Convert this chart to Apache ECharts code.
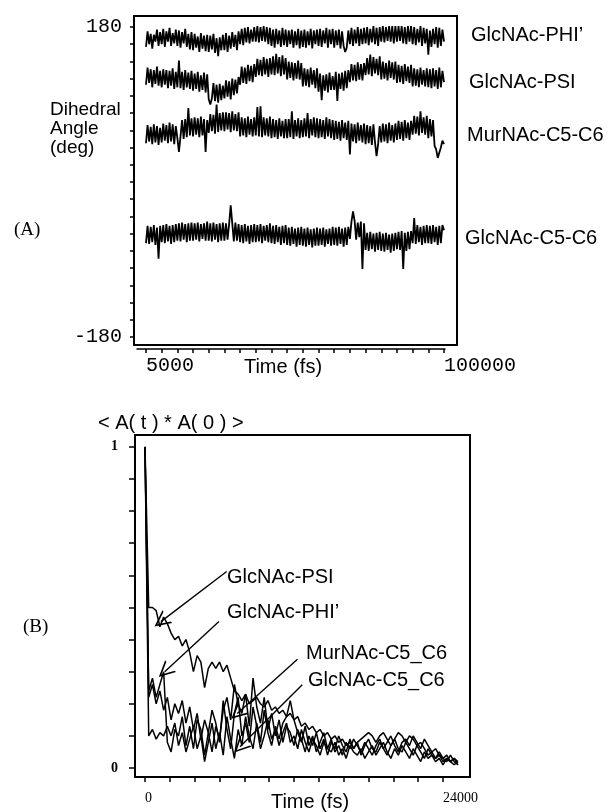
<!DOCTYPE html>
<html>
<head>
<meta charset="utf-8">
<title>Dihedral angles and autocorrelation</title>
<style>
body { margin: 0; background: #fff; }
#chart { width: 609px; height: 812px; }
</style>
</head>
<body>
<div id="chart"></div>
<script src="https://cdn.jsdelivr.net/npm/echarts@6/dist/echarts.min.js"></script>
<script type="text/javascript">

// (A) dihedral angle trajectories, sampled every 500 fs from 5000 fs
var timeStartA = 5000, timeStepA = 500;
var phiA = [157,175,160,172,155,171,163,177,158,174,
            160,178,157,175,163,179,158,173,161,177,
            158,176,156,174,161,178,157,172,154,174,
            153,172,156,169,151,173,155,170,152,171,
            151,170,154,172,150,167,146,168,153,171,
            153,173,151,170,155,174,157,171,153,175,
            160,178,159,179,162,180,161,177,163,180,
            163,181,162,180,164,181,163,180,160,179,
            158,177,156,178,160,176,157,179,159,177,
            157,176,160,177,156,175,159,178,155,176,
            157,177,156,175,159,178,155,176,160,177,
            158,178,157,176,161,179,156,177,160,178,
            156,176,159,177,155,175,158,151,156,176,
            160,179,158,177,161,180,158,178,160,179,
            161,180,159,178,162,181,160,179,158,180,
            163,181,162,180,164,181,163,181,161,181,
            163,181,164,181,161,180,160,181,163,181,
            160,180,159,178,162,181,158,179,161,178,
            148,176,157,178,160,180,156,179,158,177,
            163];
var psiA = [113,133,115,131,110,130,114,134,112,129,
            110,131,113,130,109,129,112,132,108,128,
            110,141,109,128,107,130,110,127,108,129,
            106,126,108,128,105,124,107,127,104,125,
            96,90,97,115,94,113,92,114,95,112,
            97,118,99,117,96,120,101,119,103,122,
            113,134,115,133,114,136,117,135,116,137,
            122,143,124,142,123,145,125,143,122,144,
            125,146,124,149,126,145,123,147,125,144,
            119,140,121,139,118,138,120,141,119,138,
            111,132,112,131,110,133,113,130,109,132,
            105,126,95,124,106,125,104,127,107,123,
            107,128,94,126,108,127,106,129,109,130,
            116,137,118,136,117,139,119,137,118,138,
            124,144,125,148,123,145,126,143,124,146,
            119,140,120,138,118,141,121,139,119,140,
            115,136,116,135,114,137,117,134,115,136,
            111,132,112,131,110,133,113,130,111,132,
            110,131,109,132,111,130,108,133,110,129,
            116];
var murA = [45,66,47,64,44,67,46,65,43,63,
            46,68,48,66,45,69,47,67,44,65,
            51,35,53,72,50,73,52,86,54,74,
            53,75,55,74,52,76,54,73,35,72,
            57,79,59,78,56,90,58,80,60,81,
            59,81,61,80,58,82,60,79,59,81,
            53,75,54,74,52,76,55,73,53,75,
            54,87,53,88,52,75,54,74,53,76,
            51,73,52,72,50,74,53,71,51,73,
            51,73,52,82,50,72,53,74,51,72,
            52,74,53,80,51,73,54,75,52,74,
            51,73,52,72,50,75,53,73,51,72,
            49,71,50,70,48,72,51,69,49,71,
            32,68,47,67,45,69,48,66,46,68,
            44,66,45,65,43,67,46,30,44,65,
            46,68,47,67,45,69,48,66,46,68,
            49,71,50,70,48,72,51,69,49,71,
            55,77,56,76,54,82,57,75,55,77,
            51,73,53,72,42,38,28,26,40,48,
            44];
var glcA = [-71,-51,-72,-52,-70,-50,-73,-53,-89,-51,
            -70,-50,-71,-49,-69,-51,-72,-50,-70,-49,
            -68,-48,-69,-47,-67,-49,-70,-48,-68,-47,
            -68,-48,-67,-47,-69,-49,-66,-48,-68,-46,
            -68,-48,-69,-47,-67,-49,-70,-48,-68,-47,
            -68,-48,-67,-49,-27,-48,-69,-47,-68,-49,
            -70,-50,-71,-49,-69,-51,-72,-50,-70,-49,
            -70,-50,-69,-49,-71,-51,-68,-50,-70,-48,
            -71,-51,-72,-50,-70,-52,-73,-51,-71,-50,
            -73,-53,-74,-52,-72,-54,-75,-53,-73,-52,
            -74,-54,-75,-53,-73,-55,-76,-54,-74,-53,
            -74,-54,-73,-53,-75,-55,-72,-54,-74,-52,
            -73,-53,-74,-52,-72,-54,-75,-53,-73,-52,
            -66,-46,-34,-45,-67,-47,-64,-46,-101,-48,
            -79,-59,-80,-58,-78,-60,-81,-59,-79,-58,
            -80,-60,-81,-59,-79,-61,-82,-60,-80,-59,
            -78,-58,-79,-57,-101,-59,-80,-58,-78,-57,
            -71,-42,-72,-50,-70,-52,-73,-51,-71,-50,
            -71,-51,-72,-50,-70,-52,-73,-51,-71,-50,
            -56];
var namesA = ['GlcNAc-PHI\u2019', 'GlcNAc-PSI', 'MurNAc-C5-C6', 'GlcNAc-C5-C6'];
var yTicksA = [-180,-160,-140,-120,-100,-80,-60,-40,-20,0,20,40,60,80,100,120,140,160,180];
var yLabelsA = [-180, 180];
var xTicksA = [5000,10000,15000,20000,25000,30000,35000,40000,45000,50000,
               55000,60000,65000,70000,75000,80000,85000,90000,95000,100000];
var xLabelsA = [5000, 100000];

// (B) autocorrelation <A(t)*A(0)>, sampled every 300 fs from 0
var timeStartB = 0, timeStepB = 300;
var psiB = [1.00,0.50,0.50,0.49,0.44,0.47,0.45,0.42,0.40,0.41,
            0.38,0.40,0.36,0.30,0.35,0.33,0.25,0.31,0.33,0.31,
            0.33,0.30,0.32,0.28,0.24,0.23,0.21,0.23,0.20,0.21,
            0.22,0.20,0.19,0.21,0.18,0.19,0.17,0.18,0.16,0.17,
            0.15,0.16,0.13,0.14,0.12,0.13,0.11,0.12,0.10,0.11,
            0.09,0.10,0.08,0.09,0.07,0.08,0.06,0.08,0.09,0.10,
            0.11,0.10,0.08,0.10,0.11,0.09,0.07,0.09,0.11,0.10,
            0.08,0.10,0.09,0.07,0.08,0.06,0.04,0.05,0.03,0.04,
            0.02,0.03,0.02,0.03,0.01];
var phiB = [1.00,0.24,0.28,0.22,0.26,0.30,0.08,0.05,0.12,0.10,
            0.16,0.07,0.13,0.06,0.15,0.12,0.04,0.11,0.18,0.14,
            0.08,0.21,0.12,0.06,0.17,0.22,0.10,0.14,0.08,0.19,
            0.13,0.06,0.10,0.15,0.09,0.12,0.07,0.11,0.14,0.08,
            0.10,0.06,0.12,0.08,0.05,0.09,0.07,0.04,0.08,0.06,
            0.05,0.08,0.04,0.06,0.03,0.07,0.05,0.04,0.06,0.03,
            0.05,0.07,0.04,0.06,0.08,0.05,0.03,0.06,0.04,0.07,
            0.05,0.03,0.06,0.04,0.02,0.05,0.03,0.04,0.02,0.03,
            0.01,0.03,0.02,0.01,0.02];
var murB = [1.00,0.22,0.26,0.20,0.24,0.18,0.22,0.15,0.20,0.17,
            0.21,0.14,0.19,0.12,0.17,0.09,0.15,0.11,0.05,0.13,
            0.09,0.18,0.22,0.15,0.26,0.20,0.17,0.23,0.13,0.28,
            0.19,0.14,0.22,0.12,0.17,0.10,0.15,0.08,0.13,0.11,
            0.07,0.12,0.09,0.05,0.10,0.07,0.11,0.06,0.09,0.04,
            0.08,0.06,0.10,0.07,0.05,0.09,0.06,0.08,0.04,0.07,
            0.09,0.06,0.05,0.08,0.06,0.04,0.07,0.09,0.06,0.05,
            0.08,0.06,0.04,0.07,0.05,0.03,0.06,0.04,0.03,0.05,
            0.03,0.02,0.04,0.02,0.01];
var glcB = [1.00,0.10,0.12,0.09,0.11,0.10,0.13,0.10,0.14,0.07,
            0.11,0.05,0.09,0.13,0.06,0.10,0.02,0.08,0.14,0.06,
            0.11,0.04,0.16,0.09,0.03,0.12,0.07,0.16,0.10,0.06,
            0.14,0.08,0.18,0.11,0.07,0.13,0.09,0.14,0.16,0.21,
            0.15,0.11,0.08,0.13,0.07,0.10,0.05,0.08,0.11,0.06,
            0.09,0.05,0.07,0.04,0.08,0.06,0.09,0.07,0.05,0.08,
            0.06,0.04,0.07,0.09,0.06,0.08,0.10,0.07,0.05,0.08,
            0.09,0.07,0.10,0.08,0.06,0.09,0.07,0.05,0.06,0.04,
            0.03,0.04,0.02,0.03,0.02];
var namesB = ['GlcNAc-PSI', 'GlcNAc-PHI\u2019', 'MurNAc-C5_C6', 'GlcNAc-C5_C6'];
// arrows: [label end, tip] in data coordinates
var arrowsB = [
  [[6580, 0.612], [1280, 0.456]],
  [[5957, 0.456], [1586, 0.300]],
  [[12280, 0.339], [7430, 0.170]],
  [[12665, 0.259], [7650, 0.066]]
];
var yTicksB = [0,0.1,0.2,0.3,0.4,0.5,0.6,0.7,0.8,0.9,1];
var yLabelsB = [0, 1];
var xTicksB = [0,2000,4000,6000,8000,10000,12000,14000,16000,18000,20000,22000,24000];
var xLabelsB = [0, 24000];

function toPairs(start, step, vals) {
  var out = [];
  for (var i = 0; i < vals.length; i++) out.push([start + i * step, vals[i]]);
  return out;
}

var sans = 'Liberation Sans, Arial, sans-serif';
var serif = 'Liberation Serif, Times New Roman, serif';
var mono = 'Liberation Mono, Courier New, monospace';

var chart = echarts.init(document.getElementById('chart'), null, { renderer: 'canvas' });

function lineSeries(name, axisIdx, data, width) {
  return {
    name: name, type: 'line', xAxisIndex: axisIdx, yAxisIndex: axisIdx,
    data: data, showSymbol: false, symbol: 'none', silent: true,
    lineStyle: { color: '#000', width: width }
  };
}

var seriesList = [
  lineSeries(namesA[0], 0, toPairs(timeStartA, timeStepA, phiA), 1.8),
  lineSeries(namesA[1], 0, toPairs(timeStartA, timeStepA, psiA), 1.8),
  lineSeries(namesA[2], 0, toPairs(timeStartA, timeStepA, murA), 1.8),
  lineSeries(namesA[3], 0, toPairs(timeStartA, timeStepA, glcA), 1.8),
  lineSeries(namesB[0], 1, toPairs(timeStartB, timeStepB, psiB), 1.5),
  lineSeries(namesB[1], 1, toPairs(timeStartB, timeStepB, phiB), 1.5),
  lineSeries(namesB[2], 1, toPairs(timeStartB, timeStepB, murB), 1.5),
  lineSeries(namesB[3], 1, toPairs(timeStartB, timeStepB, glcB), 1.5)
];
seriesList[4].markLine = {
  silent: true,
  symbol: ['none', 'path://M6,0 L12,14 L10.6,14 L6,3.2 L1.4,14 L0,14 Z'],
  symbolSize: [16, 16],
  label: { show: false },
  lineStyle: { color: '#000', width: 1.4, type: 'solid' },
  data: arrowsB.map(function (a) { return [{ coord: a[0] }, { coord: a[1] }]; })
};

var plainNum = function (v) { return String(v); };

var option = {
  animation: false,
  backgroundColor: '#fff',
  grid: [
    { left: 137, top: 16, width: 308, height: 329, outerBoundsMode: 'none' },
    { left: 135, top: 435, width: 335, height: 342, outerBoundsMode: 'none' }
  ],
  xAxis: [
    {
      type: 'value', gridIndex: 0, min: 2131, max: 100319, offset: 4,
      splitLine: { show: false },
      axisLine: { show: true, onZero: false, lineStyle: { color: '#000', width: 1.5 } },
      axisTick: { show: true, length: 4, customValues: xTicksA, lineStyle: { color: '#000', width: 1.5 } },
      axisLabel: { customValues: xLabelsA, formatter: plainNum, align: 'left', margin: 7,
                   color: '#000', fontFamily: mono, fontSize: 20 }
    },
    {
      type: 'value', gridIndex: 1, min: -805, max: 26174,
      splitLine: { show: false },
      axisLine: { show: true, onZero: false, lineStyle: { color: '#000', width: 2 } },
      axisTick: { show: true, length: 5, customValues: xTicksB, lineStyle: { color: '#000', width: 1.5 } },
      axisLabel: { customValues: xLabelsB, formatter: plainNum, align: 'left', margin: 14,
                   color: '#000', fontFamily: serif, fontSize: 14 }
    }
  ],
  yAxis: [
    {
      type: 'value', gridIndex: 0, min: -189.3, max: 192.8, offset: 3,
      splitLine: { show: false },
      axisLine: { show: true, onZero: false, lineStyle: { color: '#000', width: 2 } },
      axisTick: { show: true, length: 4, customValues: yTicksA, lineStyle: { color: '#000', width: 1.5 } },
      axisLabel: { customValues: yLabelsA, formatter: plainNum, margin: 12, padding: [0, 0, 9, 0],
                   color: '#000', fontFamily: mono, fontSize: 20 }
    },
    {
      type: 'value', gridIndex: 1, min: -0.028, max: 1.037,
      splitLine: { show: false },
      axisLine: { show: true, onZero: false, lineStyle: { color: '#000', width: 2 } },
      axisTick: { show: true, length: 6, customValues: yTicksB, lineStyle: { color: '#000', width: 1.5 } },
      axisLabel: { customValues: yLabelsB, formatter: plainNum, margin: 17, padding: [0, 0, 8, 0],
                   color: '#000', fontFamily: serif, fontSize: 14, fontWeight: 'bold' }
    }
  ],
  graphic: [
    // plot frames
    { type: 'rect', shape: { x: 134, y: 16, width: 323, height: 329 }, z: 50, silent: true,
      style: { fill: 'none', stroke: '#000', lineWidth: 2 } },
    { type: 'rect', shape: { x: 135, y: 435, width: 335, height: 342 }, z: 50, silent: true,
      style: { fill: 'none', stroke: '#000', lineWidth: 2 } },
    // panel A texts
    { type: 'text', left: 50, top: 100, silent: true,
      style: { text: 'Dihedral\nAngle\n(deg)', fontFamily: sans, fontSize: 19, lineHeight: 19, fill: '#000' } },
    { type: 'text', x: 14, y: 230, silent: true,
      style: { text: '(A)', fontFamily: serif, fontSize: 19, fill: '#000', verticalAlign: 'middle' } },
    { type: 'text', x: 471, y: 35, silent: true,
      style: { text: namesA[0], fontFamily: sans, fontSize: 20, fill: '#000', verticalAlign: 'middle' } },
    { type: 'text', x: 469, y: 82, silent: true,
      style: { text: namesA[1], fontFamily: sans, fontSize: 20, fill: '#000', verticalAlign: 'middle' } },
    { type: 'text', x: 467, y: 135, silent: true,
      style: { text: namesA[2], fontFamily: sans, fontSize: 20, fill: '#000', verticalAlign: 'middle' } },
    { type: 'text', x: 465, y: 238, silent: true,
      style: { text: namesA[3], fontFamily: sans, fontSize: 20, fill: '#000', verticalAlign: 'middle' } },
    { type: 'text', x: 283, y: 367, silent: true,
      style: { text: 'Time (fs)', fontFamily: sans, fontSize: 20, fill: '#000', align: 'center', verticalAlign: 'middle' } },
    // panel B texts
    { type: 'text', x: 98, y: 423, silent: true,
      style: { text: '< A( t ) * A( 0 ) >', fontFamily: sans, fontSize: 20, fill: '#000', verticalAlign: 'middle' } },
    { type: 'text', x: 23, y: 627, silent: true,
      style: { text: '(B)', fontFamily: serif, fontSize: 19, fill: '#000', verticalAlign: 'middle' } },
    { type: 'text', x: 227, y: 577, silent: true,
      style: { text: namesB[0], fontFamily: sans, fontSize: 20, fill: '#000', verticalAlign: 'middle' } },
    { type: 'text', x: 227, y: 612, silent: true,
      style: { text: namesB[1], fontFamily: sans, fontSize: 20, fill: '#000', verticalAlign: 'middle' } },
    { type: 'text', x: 306, y: 653, silent: true,
      style: { text: namesB[2], fontFamily: sans, fontSize: 20, fill: '#000', verticalAlign: 'middle' } },
    { type: 'text', x: 308, y: 680, silent: true,
      style: { text: namesB[3], fontFamily: sans, fontSize: 20, fill: '#000', verticalAlign: 'middle' } },
    { type: 'text', x: 310, y: 802, silent: true,
      style: { text: 'Time (fs)', fontFamily: sans, fontSize: 20, fill: '#000', align: 'center', verticalAlign: 'middle' } }
  ],
  series: seriesList
};

chart.setOption(option);
</script>
</body>
</html>
